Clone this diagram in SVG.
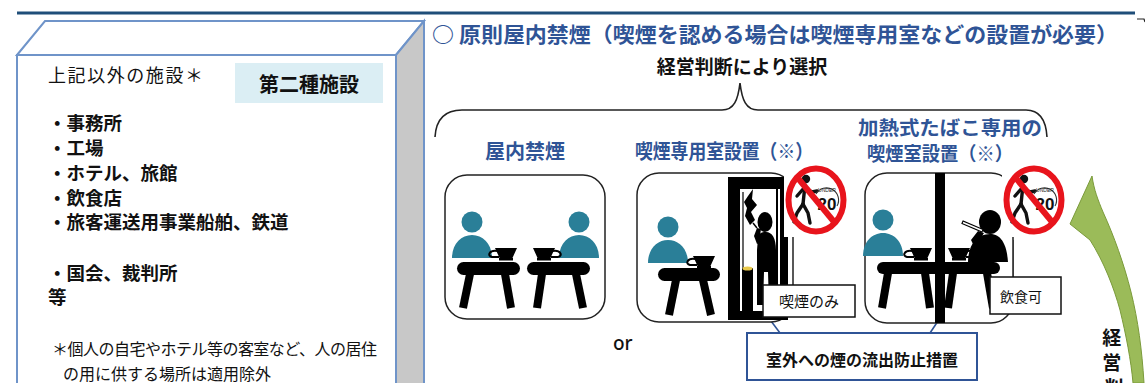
<svg xmlns="http://www.w3.org/2000/svg" xmlns:xlink="http://www.w3.org/1999/xlink" width="1145" height="383" viewBox="0 0 1145 383">
  <style>
    .jp { font-family: "Noto Sans CJK JP", "Noto Sans", sans-serif; }
    .blue { fill: #2f5496; font-weight: bold; }
    .item { font-size: 18.5px; font-weight: bold; fill: #111; }
    .panel { fill: #fff; stroke: #222; stroke-width: 1.5; }
    .leg { stroke: #000; stroke-width: 8; stroke-linecap: butt; }
    .callout { fill: #fff; stroke: #111; stroke-width: 1.5; }
    .lead { stroke: #2f5496; stroke-width: 1.6; fill: none; }
  </style>
  <defs>
    <!-- teal seated figure, origin at head centre -->
    <g id="person">
      <circle cx="0" cy="0" r="10.5" fill="#2a7f98"/>
      <path d="M-20,36 C-20,22 -11,13 0,13 C11,13 20,22 20,36 Z" fill="#2a7f98"/>
    </g>
    <!-- cup, origin at top-left of the rim -->
    <g id="cupL">
      <path d="M0,0 H22 L17,11 H5 Z" fill="#000"/>
      <rect x="4" y="10" width="14" height="2.5" fill="#000"/>
      <path d="M2,3 C-6,2 -8,8 -3,9 L4,9" fill="none" stroke="#000" stroke-width="2"/>
    </g>
    <g id="cupR">
      <path d="M0,0 H22 L17,11 H5 Z" fill="#000"/>
      <rect x="4" y="10" width="14" height="2.5" fill="#000"/>
      <path d="M20,3 C28,2 30,8 25,9 L18,9" fill="none" stroke="#000" stroke-width="2"/>
    </g>
    <!-- "no entry under 20" sign, origin at centre -->
    <g id="no20">
      <rect x="-32" y="-37" width="64" height="74" fill="#fff"/>
      <g stroke="#111" stroke-width="3.4" stroke-linecap="round" stroke-linejoin="round" fill="none">
        <circle cx="-10" cy="-21" r="4.2" fill="#111" stroke="none"/>
        <path d="M-11,-15 L-13,4"/>
        <path d="M-11,-12 L-4,-8 L1,-9"/>
        <path d="M-12,-12 L-19,-4"/>
        <path d="M-13,4 L-19,13 L-22,22"/>
        <path d="M-13,4 L-8,13 L-6,23"/>
      </g>
      <path d="M0,-6 A12,12 0 0 1 21,6" fill="none" stroke="#333" stroke-width="1.1"/>
      <text x="11" y="-8" font-family="Liberation Sans, sans-serif" font-size="5" text-anchor="middle" fill="#222">UNDER</text>
      <text x="11" y="10" font-family="Liberation Sans, sans-serif" font-size="17" font-weight="bold" text-anchor="middle" fill="#111">20</text>
      <ellipse cx="0" cy="0" rx="27.5" ry="31.5" fill="none" stroke="#e8141c" stroke-width="6"/>
      <line x1="-19" y1="-23" x2="19" y2="23" stroke="#e8141c" stroke-width="6"/>
    </g>
  </defs>

  <rect width="1145" height="383" fill="#fff"/>

  <!-- header rule -->
  <line x1="17" y1="13" x2="1135" y2="13" stroke="#1f4e79" stroke-width="3"/>
  <path d="M1137,19 L1144,19 L1145,22" fill="none" stroke="#222" stroke-width="1.2"/>

  <!-- left block: second-class facilities -->
  <g id="facility-box">
    <polygon points="17,55 45,21 424,21 396,55" fill="#fff" stroke="#6f94c9" stroke-width="2"/>
    <polygon points="396,55 424,21 424,400 396,400" fill="#c8c8c8" stroke="#6f94c9" stroke-width="2"/>
    <rect x="17" y="55" width="379" height="345" fill="#fff" stroke="#6f94c9" stroke-width="2"/>
    <text x="48" y="82" class="jp" font-size="18" fill="#111" textLength="155">上記以外の施設＊</text>
    <rect x="235" y="63" width="148" height="40" fill="#dbeef4"/>
    <text x="309" y="92" class="jp" font-size="20" font-weight="bold" fill="#111" text-anchor="middle">第二種施設</text>
    <text x="48" y="130" class="jp item">・事務所</text>
    <text x="48" y="155" class="jp item">・工場</text>
    <text x="48" y="180" class="jp item">・ホテル、旅館</text>
    <text x="48" y="205" class="jp item">・飲食店</text>
    <text x="48" y="229" class="jp item">・旅客運送用事業船舶、鉄道</text>
    <text x="48" y="280" class="jp item">・国会、裁判所</text>
    <text x="48" y="304" class="jp item">等</text>
    <text x="52" y="355" class="jp" font-size="16" fill="#111" textLength="325">＊個人の自宅やホテル等の客室など、人の居住</text>
    <text x="63" y="380" class="jp" font-size="16" fill="#111">の用に供する場所は適用除外</text>
  </g>

  <!-- heading -->
  <g id="heading">
    <text x="432" y="42" class="jp" font-size="21" fill="#2f5496" font-weight="bold" textLength="686" lengthAdjust="spacingAndGlyphs">○ 原則屋内禁煙（喫煙を認める場合は喫煙専用室などの設置が必要）</text>
    <text x="742" y="74" class="jp" font-size="19" font-weight="bold" fill="#111" text-anchor="middle">経営判断により選択</text>
  </g>

  <!-- connectors -->
  <g id="connectors">
    <path d="M435,137 C436,120 444,110 462,110 L722,110 C734,110 738,100 740,83 C742,100 746,110 758,110 L1026,110 C1040,110 1046,120 1047,137" fill="none" stroke="#222" stroke-width="1.6"/>
    <line class="lead" x1="771" y1="321" x2="780" y2="333"/>
    <line class="lead" x1="938" y1="321" x2="930" y2="333"/>
    <line x1="1013" y1="240" x2="1013" y2="277" stroke="#333" stroke-width="1.2"/>
  </g>

  <!-- option labels -->
  <g id="labels">
    <text x="525" y="159" class="jp blue" font-size="20" text-anchor="middle">屋内禁煙</text>
    <text x="635" y="159" class="jp blue" font-size="20" textLength="178" lengthAdjust="spacingAndGlyphs">喫煙専用室設置（※）</text>
    <text x="858" y="135" class="jp blue" font-size="19" textLength="184" lengthAdjust="spacingAndGlyphs">加熱式たばこ専用の</text>
    <text x="867" y="161" class="jp blue" font-size="19" textLength="146" lengthAdjust="spacingAndGlyphs">喫煙室設置（※）</text>
  </g>

  <!-- option 1: no smoking indoors -->
  <g id="panel-nosmoking">
    <rect class="panel" x="445" y="175" width="160" height="144" rx="22"/>
    <use xlink:href="#person" href="#person" x="472" y="222"/>
    <use xlink:href="#person" href="#person" x="579" y="222"/>
    <use xlink:href="#cupL" href="#cupL" x="495" y="248"/>
    <use xlink:href="#cupR" href="#cupR" x="533" y="248"/>
    <rect x="457" y="262" width="63" height="13" rx="6.5" fill="#000"/>
    <line class="leg" x1="470" y1="274" x2="463" y2="308"/>
    <line class="leg" x1="505" y1="274" x2="511" y2="308"/>
    <rect x="527" y="262" width="63" height="13" rx="6.5" fill="#000"/>
    <line class="leg" x1="542" y1="274" x2="537" y2="308"/>
    <line class="leg" x1="576" y1="274" x2="583" y2="308"/>
  </g>

  <text x="613" y="350" font-family="Noto Sans, sans-serif" font-size="19" font-weight="500" fill="#111">or</text>

  <!-- option 2: smoking room -->
  <g id="panel-smokingroom">
    <rect class="panel" x="637" y="173" width="156" height="149" rx="22"/>
    <use xlink:href="#person" href="#person" x="668" y="227"/>
    <use xlink:href="#cupL" href="#cupL" x="693" y="256"/>
    <rect x="658" y="268" width="62" height="13" rx="6.5" fill="#000"/>
    <line class="leg" x1="676" y1="280" x2="669" y2="315"/>
    <line class="leg" x1="703" y1="280" x2="711" y2="315"/>
    <!-- booth -->
    <rect x="728" y="177" width="60" height="143" fill="#000"/>
    <rect x="740" y="189" width="36" height="122" fill="#fff"/>
    <rect x="778" y="189" width="2" height="122" fill="#fff"/>
    <line x1="743" y1="192" x2="743" y2="311" stroke="#000" stroke-width="1.2"/>
    <path d="M748,196 L753,189 L752,199 L757,205 L751,212 L755,220 L750,225 L745,216 L747,208 L744,202 Z" fill="#000"/>
    <ellipse cx="765" cy="222" rx="7.5" ry="10" fill="#000"/>
    <path d="M758,238 C759,233 762,232 766,232 C772,232 776,238 776,250 L776,305 L769,305 L768,272 L764,272 L763,305 L757,305 L757,250 Z" fill="#000"/>
    <path d="M757,244 L754,236 L757,228 L761,229 L760,236 L762,242 Z" fill="#000"/>
    <line x1="757" y1="228" x2="753" y2="223" stroke="#000" stroke-width="1.5"/>
    <rect x="742" y="268" width="11" height="44" fill="#000"/>
    <ellipse cx="747.5" cy="268.5" rx="5" ry="2" fill="#e8c84a"/>
  </g>
  <use xlink:href="#no20" href="#no20" x="816" y="200"/>

  <g id="label-smokingonly">
    <rect class="callout" x="763" y="285" width="92" height="32"/>
    <text x="809" y="307" class="jp" font-size="15" fill="#111" text-anchor="middle">喫煙のみ</text>
  </g>

  <!-- option 3: heated-tobacco room -->
  <g id="panel-heated">
    <rect class="panel" x="865" y="173" width="148" height="150" rx="22"/>
    <use xlink:href="#person" href="#person" x="883" y="220"/>
    <use xlink:href="#cupL" href="#cupL" x="910" y="248"/>
    <use xlink:href="#cupR" href="#cupR" x="948" y="248"/>
    <ellipse cx="990" cy="222" rx="11" ry="12" fill="#000"/>
    <path d="M968,262 C968,246 976,234 990,234 C1003,234 1007,248 1008,262 Z" fill="#000"/>
    <path d="M977,252 L971,240 L978,231 L984,233 L979,241 L983,250 Z" fill="#000"/>
    <line x1="962" y1="222" x2="983" y2="231" stroke="#000" stroke-width="4"/>
    <line x1="963" y1="222.5" x2="982" y2="230.5" stroke="#fff" stroke-width="1.6"/>
    <rect x="974" y="255" width="14" height="7" rx="2" fill="#000"/>
    <rect x="877" y="262" width="123" height="12" rx="6" fill="#000"/>
    <line class="leg" x1="888" y1="273" x2="882" y2="308"/>
    <line class="leg" x1="925" y1="273" x2="930" y2="308"/>
    <line class="leg" x1="953" y1="273" x2="948" y2="308"/>
    <line class="leg" x1="987" y1="273" x2="993" y2="308"/>
    <rect x="935" y="173" width="10" height="150" fill="#000"/>
  </g>
  <use xlink:href="#no20" href="#no20" x="1034" y="200"/>

  <g id="label-eating">
    <rect class="callout" x="990" y="277" width="71" height="37"/>
    <text x="1021" y="302" class="jp" font-size="14" fill="#111" text-anchor="middle">飲食可</text>
  </g>

  <g id="label-leakage">
    <rect x="747" y="333" width="230" height="47" fill="#fff" stroke="#2f5496" stroke-width="2"/>
    <text x="862" y="366" class="jp" font-size="16" font-weight="bold" fill="#111" text-anchor="middle">室外への煙の流出防止措置</text>
  </g>

  <!-- management-decision arrow -->
  <g id="decision-arrow">
    <path d="M1092,176 L1070,224 L1090,240 C1104,262 1114,288 1120,310 C1126,335 1131,360 1133,383 L1144,383 C1142,350 1138,320 1131,292 C1124,264 1114,236 1103,212 C1098,200 1094,190 1092,176 Z" fill="#9bbb59" stroke="#7a9a3a" stroke-width="1"/>
    <text class="jp" font-size="19" font-weight="bold" fill="#111" text-anchor="middle">
      <tspan x="1114" y="345">経</tspan>
      <tspan x="1114" y="370">営</tspan>
      <tspan x="1114" y="395">判</tspan>
    </text>
  </g>
</svg>
